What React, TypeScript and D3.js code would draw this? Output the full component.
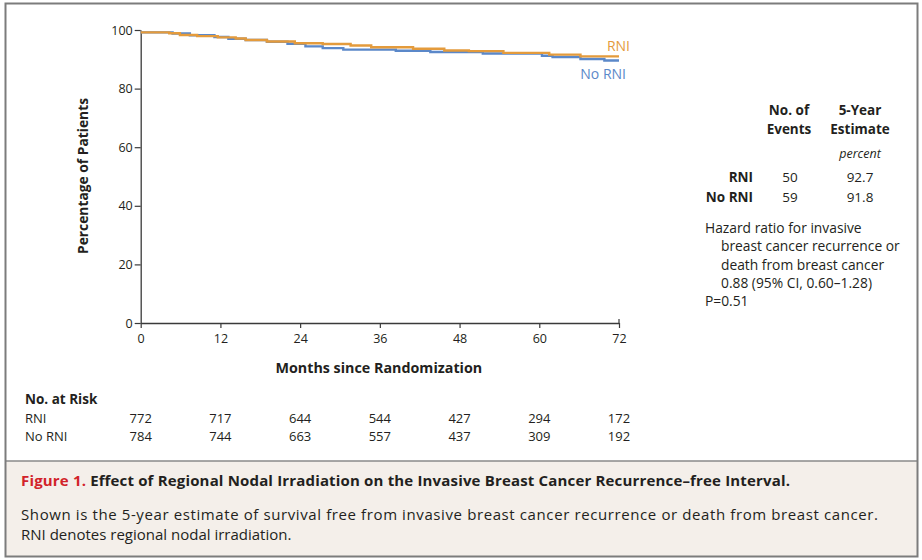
import React from "react";
import * as d3 from "d3";

// Kaplan-Meier steps: [month, percent]
const rniSteps: [number, number][] = [
  [0, 99.2], [4.3, 98.9], [5.9, 98.3], [8.5, 97.9], [11.6, 97.5], [14.3, 97.1],
  [15.8, 96.6], [19.0, 96.1], [23.2, 95.5], [27.4, 95.2], [31.6, 94.7], [34.7, 94.1],
  [41.0, 93.6], [45.7, 93.0], [49.4, 92.8], [54.6, 92.2], [61.5, 91.6], [66.2, 91.0],
  [72, 91.0],
];
const noRniSteps: [number, number][] = [
  [0, 99.2], [4.8, 98.8], [7.4, 98.2], [11.1, 97.6], [13.2, 97.0], [15.8, 96.6],
  [19.0, 96.0], [22.1, 95.3], [24.8, 94.4], [27.4, 93.8], [30.5, 93.3], [38.4, 92.9],
  [43.6, 92.5], [51.5, 92.0], [60.4, 91.2], [62.0, 90.8], [66.2, 90.1], [69.8, 89.6],
  [72, 89.6],
];

const xTicks = [0, 12, 24, 36, 48, 60, 72];
const yTicks = [0, 20, 40, 60, 80, 100];
const riskRni = [772, 717, 644, 544, 427, 294, 172];
const riskNoRni = [784, 744, 663, 557, 437, 309, 192];

const groups = ["RNI", "No RNI"];
const events = [50, 59];
const estimates = ["92.7", "91.8"];
const hazardLines = [
  "Hazard ratio for invasive",
  "breast cancer recurrence or",
  "death from breast cancer",
  "0.88 (95% CI, 0.60\u20131.28)",
];

const ORANGE = "#e49b3c";
const BLUE = "#5b88c9";
const INK = "#231f20";
const FONT = "'Open Sans', Lato, sans-serif";

export default function App() {
  const xAxisRef = React.useRef<SVGGElement>(null);
  const yAxisRef = React.useRef<SVGGElement>(null);

  const x = d3.scaleLinear().domain([0, 72]).range([140.7, 619]);
  const y = d3.scaleLinear().domain([0, 100]).range([323, 30]);

  const line = d3
    .line<[number, number]>()
    .x((d) => x(d[0]))
    .y((d) => y(d[1]))
    .curve(d3.curveStepAfter);

  React.useEffect(() => {
    const xa = d3.select(xAxisRef.current!);
    xa.selectAll("*").remove();
    xa.call(d3.axisBottom(x).tickValues(xTicks).tickSize(5).tickSizeOuter(0).tickFormat(d3.format("d")));
    xa.select(".domain").attr("stroke", "#3a3a3a").attr("stroke-width", 1.3);
    xa.selectAll(".tick line").attr("stroke", "#3a3a3a").attr("stroke-width", 1.2);
    xa.selectAll(".tick text")
      .attr("font-family", FONT)
      .attr("font-size", 12.5)
      .attr("fill", INK)
      .attr("dy", "0.95em");

    const ya = d3.select(yAxisRef.current!);
    ya.selectAll("*").remove();
    ya.call(d3.axisLeft(y).tickValues(yTicks).tickSize(6).tickSizeOuter(0).tickFormat(d3.format("d")));
    ya.select(".domain").attr("stroke", "#3a3a3a").attr("stroke-width", 1.3);
    ya.selectAll(".tick line").attr("stroke", "#3a3a3a").attr("stroke-width", 1.2);
    ya.selectAll(".tick text")
      .attr("font-family", FONT)
      .attr("font-size", 12.5)
      .attr("fill", INK)
      .attr("x", -8);
  }, []);

  return (
    <svg
      width={922}
      height={560}
      style={{ position: "absolute", left: 0, top: 0, background: "#fff" }}
      fontFamily={FONT}
    >
      {/* caption panel */}
      <rect x={6} y={461} width={912} height={95} fill="#f4efea" />
      <line x1={6} x2={918} y1={461} y2={461} stroke="#8a8a8a" strokeWidth={1.5} />
      <rect x={5.5} y={3.5} width={912} height={553} fill="none" stroke="#7c7c7c" strokeWidth={2} />

      {/* axes */}
      <g ref={yAxisRef} transform={`translate(${x(0)},0)`} />
      <g ref={xAxisRef} transform={`translate(0,${y(0)})`} />
      <line x1={x(72)} x2={x(72)} y1={y(0) - 4} y2={y(0)} stroke="#3a3a3a" strokeWidth={1.2} />

      {/* curves */}
      <path d={line(noRniSteps) || ""} fill="none" stroke={BLUE} strokeWidth={2.4} />
      <path d={line(rniSteps) || ""} fill="none" stroke={ORANGE} strokeWidth={2.4} />
      <text x={630} y={51} fill={ORANGE} fontSize={14} textAnchor="end">RNI</text>
      <text x={626} y={79} fill={BLUE} fontSize={14} textAnchor="end">No RNI</text>

      {/* axis titles */}
      <text
        transform="translate(88,176) rotate(-90)"
        textAnchor="middle"
        fontSize={13.8}
        fontWeight="bold"
        fill={INK}
      >
        Percentage of Patients
      </text>
      <text x={x(36) - 1} y={373} textAnchor="middle" fontSize={14.3} fontWeight="bold" fill={INK}>
        Months since Randomization
      </text>

      {/* numbers at risk */}
      <text x={25} y={404} fontSize={13.5} fontWeight="bold" fill={INK}>No. at Risk</text>
      <text x={25} y={423} fontSize={13} fill={INK}>RNI</text>
      <text x={25} y={441} fontSize={13} fill={INK}>No RNI</text>
      {xTicks.map((t, i) => (
        <g key={t}>
          <text x={x(t)} y={423} textAnchor="middle" fontSize={13} fill={INK}>{riskRni[i]}</text>
          <text x={x(t)} y={441} textAnchor="middle" fontSize={13} fill={INK}>{riskNoRni[i]}</text>
        </g>
      ))}

      {/* right-hand table */}
      <g fill={INK} fontSize={13.5}>
        <text x={789} y={115} textAnchor="middle" fontWeight="bold">No. of</text>
        <text x={789} y={134} textAnchor="middle" fontWeight="bold">Events</text>
        <text x={860} y={115} textAnchor="middle" fontWeight="bold">5-Year</text>
        <text x={860} y={134} textAnchor="middle" fontWeight="bold">Estimate</text>
        <text x={860} y={158} textAnchor="middle" fontStyle="italic" fontSize={12.5}>percent</text>
        {groups.map((g, i) => (
          <g key={g}>
            <text x={753} y={182 + i * 20} textAnchor="end" fontWeight="bold">{g}</text>
            <text x={790} y={182 + i * 20} textAnchor="middle">{events[i]}</text>
            <text x={860} y={182 + i * 20} textAnchor="middle">{estimates[i]}</text>
          </g>
        ))}
        {hazardLines.map((l, i) => (
          <text key={l} x={i === 0 ? 705 : 721} y={233 + i * 18.3} fontSize={13.8}>{l}</text>
        ))}
        <text x={705} y={306} fontSize={13.8}>P=0.51</text>
      </g>

      {/* caption */}
      <text x={21} y={486} fontSize={15} fontWeight="bold" fill={INK} textLength={769} lengthAdjust="spacing">
        <tspan fill="#d2232a">Figure 1. </tspan>
        Effect of Regional Nodal Irradiation on the Invasive Breast Cancer Recurrence–free Interval.
      </text>
      <text x={21} y={519.5} fontSize={15} fill={INK} textLength={857} lengthAdjust="spacing">
        Shown is the 5-year estimate of survival free from invasive breast cancer recurrence or death from breast cancer.
      </text>
      <text x={21} y={540} fontSize={15} fill={INK}>RNI denotes regional nodal irradiation.</text>
    </svg>
  );
}
